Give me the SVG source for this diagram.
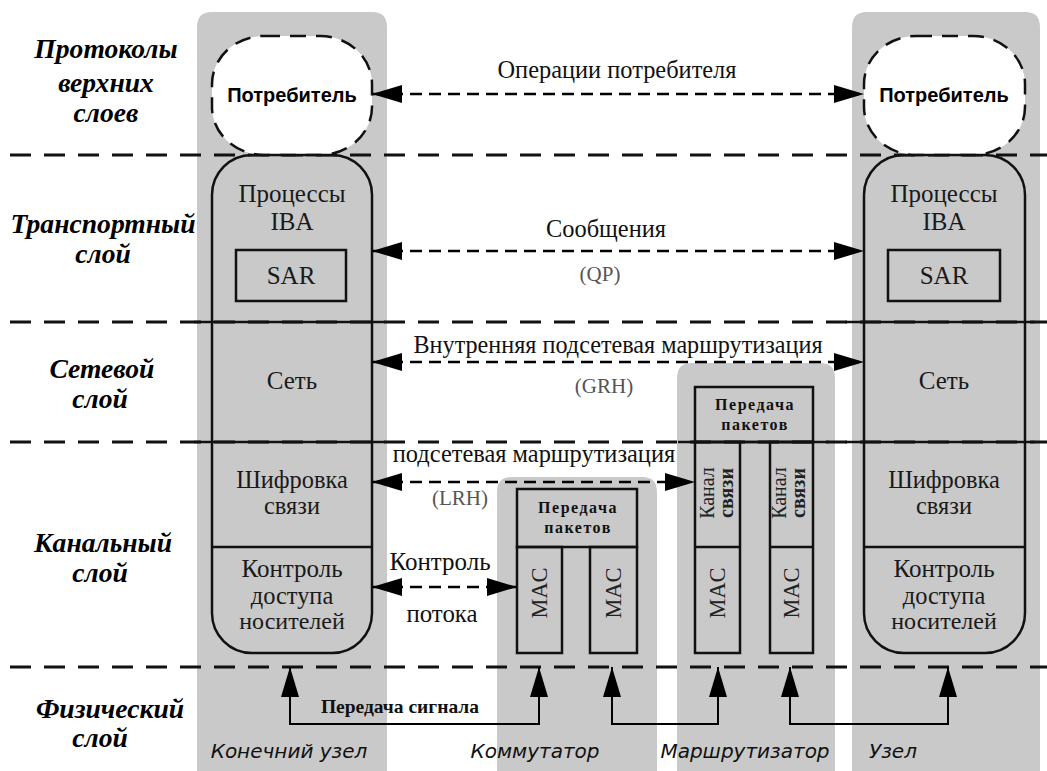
<svg xmlns="http://www.w3.org/2000/svg" width="1047" height="771" viewBox="0 0 1047 771">
<defs>
<marker id="ah" markerUnits="userSpaceOnUse" markerWidth="32" markerHeight="20" refX="30" refY="9" orient="auto-start-reverse" viewBox="0 0 32 20">
<path d="M0,0 L30,9 L0,18 Z" fill="#000"/>
</marker>
</defs>
<style>
.col{fill:#c9c9c9}
.layer{stroke:#111;stroke-width:3;stroke-dasharray:21 13;fill:none}
.solid{stroke:#111;stroke-width:2.5;fill:none}
.box{fill:none;stroke:#111;stroke-width:2.5}
.user{fill:#fff;stroke:#111;stroke-width:2.5;stroke-dasharray:16 10}
.conn{stroke:#000;stroke-width:2.5;stroke-dasharray:12 7;fill:none}
.sig{stroke:#000;stroke-width:2;fill:none}
.lay{font-weight:bold;font-style:italic;font-size:20px;fill:#000;text-anchor:middle}
.nt{font-size:20px;fill:#1a1a1a;text-anchor:middle}
.lbl{font-size:20px;fill:#111;text-anchor:middle}
.gl{font-size:21px;fill:#555;text-anchor:middle}
.sm{font-weight:bold;font-size:16px;letter-spacing:1.5px;fill:#111;text-anchor:middle}
.rot{font-size:20px;fill:#222;text-anchor:middle}
.usr{font-weight:bold;font-size:20px;fill:#000;text-anchor:middle}
.bot{font-style:italic;font-size:20px;fill:#111;text-anchor:middle}
.sigt{font-weight:bold;font-size:19.5px;fill:#111;text-anchor:middle}
</style>
<rect width="1047" height="771" fill="#fff"/>

<g id="columns">
<path class="col" d="M197,771 V27 Q197,12 212,12 H372 Q387,12 387,27 V771 Z"/>
<path class="col" d="M497,771 V492 Q497,477 512,477 H642 Q657,477 657,492 V771 Z"/>
<path class="col" d="M677,771 V378 Q677,363 692,363 H820 Q835,363 835,378 V771 Z"/>
<path class="col" d="M852,771 V27 Q852,12 867,12 H1025 Q1040,12 1040,27 V771 Z"/>
</g>

<g id="layers">
<line class="layer" x1="10" y1="155" x2="1047" y2="155"/>
<line class="layer" x1="10" y1="322" x2="1047" y2="322"/>
<line class="layer" x1="10" y1="442" x2="1047" y2="442"/>
<line class="layer" x1="10" y1="667" x2="1047" y2="667"/>
<line class="solid" x1="194" y1="322" x2="385" y2="322"/>
<line class="solid" x1="194" y1="442" x2="385" y2="442"/>
<line class="solid" x1="845" y1="322" x2="1035" y2="322"/>
<line class="solid" x1="845" y1="442" x2="1035" y2="442"/>
<line class="solid" x1="678" y1="442" x2="829" y2="442"/>
</g>

<g id="layer-labels" font-family="Liberation Serif, Times New Roman, serif">
<text class="lay" transform="translate(106,58) scale(1.38)">Протоколы</text>
<text class="lay" transform="translate(106,92) scale(1.38)">верхних</text>
<text class="lay" transform="translate(106,122) scale(1.38)">слоев</text>
<text class="lay" transform="translate(103,233) scale(1.38)">Транспортный</text>
<text class="lay" transform="translate(103,263) scale(1.38)">слой</text>
<text class="lay" transform="translate(102,378) scale(1.38)">Сетевой</text>
<text class="lay" transform="translate(100,408) scale(1.38)">слой</text>
<text class="lay" transform="translate(103,552) scale(1.38)">Канальный</text>
<text class="lay" transform="translate(100,582) scale(1.38)">слой</text>
<text class="lay" transform="translate(110,718) scale(1.38)">Физический</text>
<text class="lay" transform="translate(100,747) scale(1.38)">слой</text>
</g>

<g id="user-left" font-family="Liberation Sans, Arial, sans-serif">
<rect class="user" x="212" y="36" width="160" height="119" rx="52" ry="48"/>
<text class="usr" x="292" y="102">Потребитель</text>
</g>
<g id="user-right" font-family="Liberation Sans, Arial, sans-serif">
<rect class="user" x="864" y="36" width="161" height="119" rx="52" ry="48"/>
<text class="usr" x="944" y="102">Потребитель</text>
</g>

<g id="end-node" font-family="Liberation Serif, Times New Roman, serif">
<path class="box" d="M212,195 A40,40 0 0 1 252,155 H332 A40,40 0 0 1 372,195 V613 A40,40 0 0 1 332,653 H252 A40,40 0 0 1 212,613 Z"/>
<line class="solid" x1="212" y1="547" x2="372" y2="547"/>
<text class="nt" transform="translate(292,202) scale(1.25)">Процессы</text>
<text class="nt" transform="translate(292,230) scale(1.25)">IBA</text>
<rect class="box" x="236" y="250" width="110" height="51"/>
<text class="nt" transform="translate(291,284) scale(1.25)">SAR</text>
<text class="nt" transform="translate(292,389) scale(1.25)">Сеть</text>
<text class="nt" transform="translate(292,488) scale(1.22)">Шифровка</text>
<text class="nt" transform="translate(292,514) scale(1.22)">связи</text>
<text class="nt" transform="translate(292,577) scale(1.25)">Контроль</text>
<text class="nt" transform="translate(292,604) scale(1.22)">доступа</text>
<text class="nt" transform="translate(292,629) scale(1.2)">носителей</text>
</g>

<g id="node-right" font-family="Liberation Serif, Times New Roman, serif">
<path class="box" d="M864,195 A40,40 0 0 1 904,155 H985 A40,40 0 0 1 1025,195 V613 A40,40 0 0 1 985,653 H904 A40,40 0 0 1 864,613 Z"/>
<line class="solid" x1="864" y1="547" x2="1025" y2="547"/>
<text class="nt" transform="translate(944,202) scale(1.25)">Процессы</text>
<text class="nt" transform="translate(944,230) scale(1.25)">IBA</text>
<rect class="box" x="888" y="250" width="112" height="51"/>
<text class="nt" transform="translate(944,284) scale(1.25)">SAR</text>
<text class="nt" transform="translate(944,389) scale(1.25)">Сеть</text>
<text class="nt" transform="translate(944,488) scale(1.22)">Шифровка</text>
<text class="nt" transform="translate(944,514) scale(1.22)">связи</text>
<text class="nt" transform="translate(944,577) scale(1.25)">Контроль</text>
<text class="nt" transform="translate(944,604) scale(1.22)">доступа</text>
<text class="nt" transform="translate(944,629) scale(1.2)">носителей</text>
</g>

<g id="switch" font-family="Liberation Serif, Times New Roman, serif">
<rect class="box" x="517" y="489" width="120" height="58"/>
<text class="sm" x="578" y="513">Передача</text>
<text class="sm" x="578" y="533">пакетов</text>
<rect class="box" x="517" y="547" width="45" height="106"/>
<rect class="box" x="590" y="547" width="47" height="106"/>
<text class="rot" transform="translate(547,593) rotate(-90) scale(1.12)">MAC</text>
<text class="rot" transform="translate(621,593) rotate(-90) scale(1.12)">MAC</text>
</g>

<g id="router" font-family="Liberation Serif, Times New Roman, serif">
<rect class="box" x="695" y="387" width="118" height="55"/>
<text class="sm" x="755" y="410">Передача</text>
<text class="sm" x="755" y="430">пакетов</text>
<rect class="box" x="695" y="442" width="45" height="211"/>
<line class="solid" x1="695" y1="547" x2="740" y2="547"/>
<rect class="box" x="770" y="442" width="43" height="211"/>
<line class="solid" x1="770" y1="547" x2="813" y2="547"/>
<text class="rot" transform="translate(714,493) rotate(-90)">Канал</text>
<text class="rot" font-weight="bold" transform="translate(733,493) rotate(-90)">связи</text>
<text class="rot" transform="translate(786,493) rotate(-90)">Канал</text>
<text class="rot" font-weight="bold" transform="translate(805,493) rotate(-90)">связи</text>
<text class="rot" transform="translate(725,593) rotate(-90) scale(1.12)">MAC</text>
<text class="rot" transform="translate(799,593) rotate(-90) scale(1.12)">MAC</text>
</g>

<g id="connectors">
<line class="conn" x1="372" y1="94" x2="864" y2="94" marker-start="url(#ah)" marker-end="url(#ah)"/>
<line class="conn" x1="372" y1="251" x2="864" y2="251" marker-start="url(#ah)" marker-end="url(#ah)"/>
<line class="conn" x1="372" y1="362" x2="864" y2="362" marker-start="url(#ah)" marker-end="url(#ah)"/>
<line class="conn" x1="372" y1="482" x2="695" y2="482" marker-start="url(#ah)" marker-end="url(#ah)"/>
<line class="conn" x1="372" y1="587" x2="517" y2="587" marker-start="url(#ah)" marker-end="url(#ah)"/>
<path class="sig" d="M290,667 V724 H539 V667" marker-start="url(#ah)" marker-end="url(#ah)"/>
<path class="sig" d="M612,667 V724 H718 V667" marker-start="url(#ah)" marker-end="url(#ah)"/>
<path class="sig" d="M790,667 V724 H948 V667" marker-start="url(#ah)" marker-end="url(#ah)"/>
</g>

<g id="connector-labels" font-family="Liberation Serif, Times New Roman, serif">
<text class="lbl" transform="translate(617,78) scale(1.22)">Операции потребителя</text>
<text class="lbl" transform="translate(606,237) scale(1.22)">Сообщения</text>
<text class="gl" x="600" y="281">(QP)</text>
<text class="lbl" transform="translate(618,353) scale(1.21)">Внутренняя подсетевая маршрутизация</text>
<text class="gl" x="604" y="393">(GRH)</text>
<text class="lbl" transform="translate(534,462) scale(1.22)">подсетевая маршрутизация</text>
<text class="gl" x="460" y="505">(LRH)</text>
<text class="lbl" transform="translate(440,570) scale(1.25)">Контроль</text>
<text class="lbl" transform="translate(442,622) scale(1.24)">потока</text>
<text class="sigt" x="400" y="713">Передача сигнала</text>
</g>

<g id="column-labels" font-family="DejaVu Sans, sans-serif">
<text class="bot" x="289" y="758">Конечний узел</text>
<text class="bot" x="535" y="758">Коммутатор</text>
<text class="bot" x="745" y="758">Маршрутизатор</text>
<text class="bot" x="893" y="758">Узел</text>
</g>
</svg>
